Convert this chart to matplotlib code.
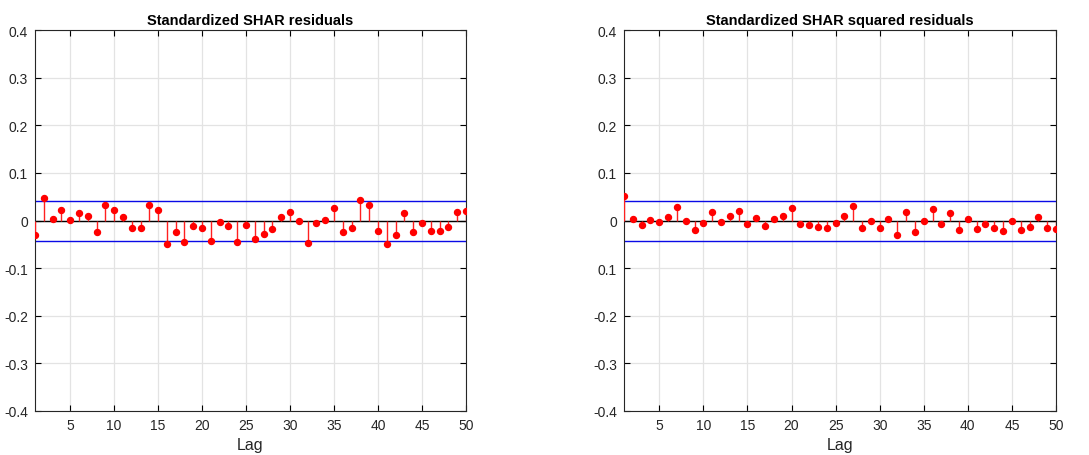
import matplotlib.pyplot as plt
import numpy as np

plt.rcParams['font.family'] = ['Liberation Sans', 'DejaVu Sans']

lags = list(range(1, 51))

# autocorrelation of standardized residuals
acf_resid = [-0.030, 0.048, 0.004, 0.022, 0.001, 0.015, 0.010, -0.025, 0.033, 0.022,
             0.008, -0.015, -0.015, 0.033, 0.022, -0.049, -0.025, -0.045, -0.011, -0.015,
             -0.042, -0.003, -0.011, -0.045, -0.009, -0.039, -0.028, -0.018, 0.008, 0.018,
             0.000, -0.047, -0.005, 0.001, 0.027, -0.025, -0.015, 0.043, 0.033, -0.023,
             -0.049, -0.030, 0.016, -0.024, -0.005, -0.021, -0.021, -0.013, 0.018, 0.020]

# autocorrelation of standardized squared residuals
acf_sq = [0.052, 0.004, -0.009, 0.002, -0.003, 0.008, 0.029, 0.000, -0.019, -0.005,
          0.017, -0.003, 0.010, 0.020, -0.007, 0.006, -0.011, 0.004, 0.010, 0.027,
          -0.007, -0.009, -0.013, -0.015, -0.005, 0.010, 0.031, -0.015, 0.000, -0.015,
          0.004, -0.030, 0.018, -0.024, 0.000, 0.025, -0.007, 0.016, -0.020, 0.004,
          -0.018, -0.007, -0.015, -0.021, 0.000, -0.020, -0.013, 0.008, -0.015, -0.018]

conf_bound = 0.042

titles = ["Standardized SHAR residuals", "Standardized SHAR squared residuals"]
yticks = [-0.4, -0.3, -0.2, -0.1, 0, 0.1, 0.2, 0.3, 0.4]
ylabels_left = ["-0.4", "-0.3", "-0.2", "-0.1", "0", "0.1", "0.2", "0.3", "0.4"]
ylabels_right = ["-0.4", "-0.3", "-0.2", "0.1", "0", "0.1", "0.2", "0.3", "0.4"]
xticks = [5, 10, 15, 20, 25, 30, 35, 40, 45, 50]

fig = plt.figure(figsize=(10.89, 4.56), dpi=100)
ax1 = fig.add_axes([0.0321, 0.0965, 0.3958, 0.8355])
ax2 = fig.add_axes([0.5730, 0.0965, 0.3967, 0.8355])

for ax, vals, title, ylab in [(ax1, acf_resid, titles[0], ylabels_left),
                              (ax2, acf_sq, titles[1], ylabels_right)]:
    ax.vlines(lags, 0, vals, colors='#ff2020', linewidth=1.0, zorder=3)
    ax.plot(lags, vals, 'o', color='red', markersize=4.3, zorder=4)
    ax.axhline(0, color='black', linewidth=1.0, zorder=2)
    ax.axhline(conf_bound, color='#0a0ae6', linewidth=1.0, zorder=2)
    ax.axhline(-conf_bound, color='#0a0ae6', linewidth=1.0, zorder=2)

    ax.set_xlim(1, 50)
    ax.set_ylim(-0.4, 0.4)
    ax.set_xticks(xticks)
    ax.set_yticks(yticks)
    ax.set_yticklabels(ylab)
    ax.grid(True, color='#e3e3e3', linewidth=0.9)
    ax.set_axisbelow(True)
    ax.tick_params(direction='in', top=True, right=True, length=4, width=0.8,
                   labelsize=10, labelcolor='#262626', pad=5)
    for sp in ax.spines.values():
        sp.set_color('#262626')
        sp.set_linewidth(0.8)
    ax.set_title(title, fontsize=10.5, fontweight='bold', pad=4)
    ax.set_xlabel("Lag", fontsize=11.5, color='#262626', labelpad=4)

plt.savefig("out.png", dpi=100)
